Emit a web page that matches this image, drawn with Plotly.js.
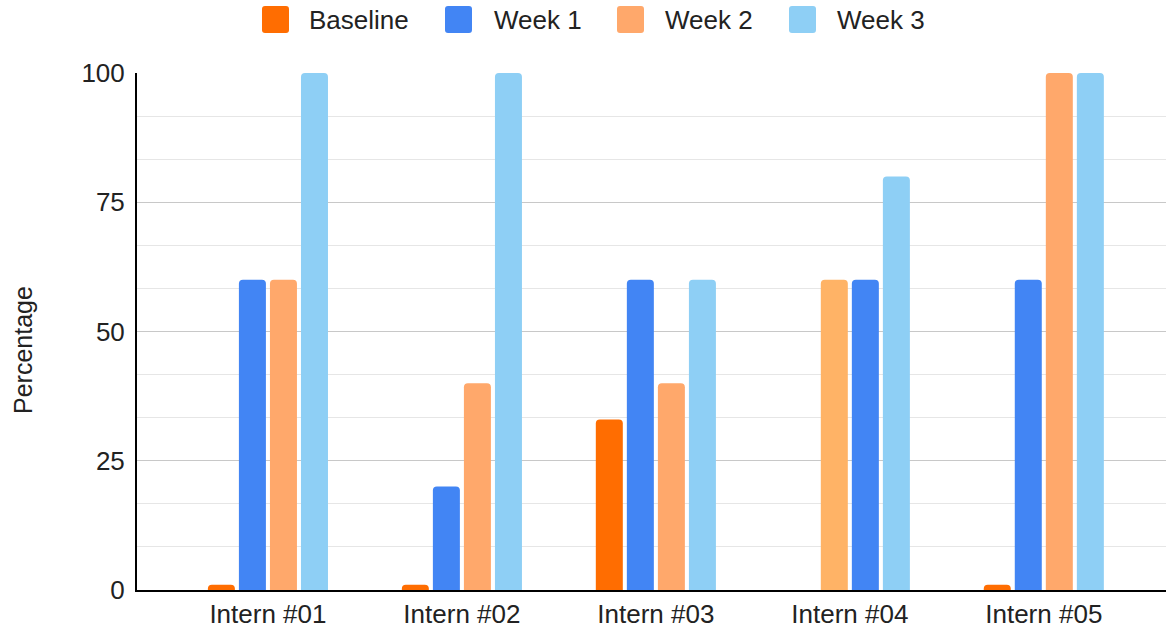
<!DOCTYPE html>
<html>
<head>
<meta charset="utf-8">
<script src="https://cdn.plot.ly/plotly-3.0.1.min.js"></script>
<style>html,body{margin:0;padding:0;background:#fff;}#chart{width:1166px;height:632px;}</style>
</head>
<body>
<div id="chart"></div>
<script>
const categories = ["Intern #01", "Intern #02", "Intern #03", "Intern #04", "Intern #05"];
const baseline = [1, 1, 33, 0, 1];
const week1 = [60, 20, 60, 60, 60];
const week2 = [60, 40, 40, 60, 100];
const week3 = [100, 100, 60, 80, 100];
const seriesNames = ["Baseline", "Week 1", "Week 2", "Week 3"];
const seriesColors = ["#FF6D01", "#4285F4", "#FFA86B", "#8ECFF5"];
// Individually recoloured points in the original chart (Intern #04)
const week1PointColors = ["#4285F4", "#4285F4", "#4285F4", "#FFB366", "#4285F4"];
const week2PointColors = ["#FFA86B", "#FFA86B", "#FFA86B", "#4285F4", "#FFA86B"];
const yTicks = [0, 25, 50, 75, 100];
const yTitle = "Percentage";

const values = [baseline, week1, week2, week3];
const pointColors = [null, week1PointColors, week2PointColors, null];
const traces = values.map((v, i) => ({
  type: 'bar',
  name: seriesNames[i],
  x: categories,
  y: v,
  marker: {
    color: pointColors[i] || seriesColors[i],
    cornerradius: 4,
    line: {width: 0}
  },
  hoverinfo: 'x+y+name',
  showlegend: false
}));

// ---- layout geometry (pixels) ----
const W = 1166, H = 632;
const M = {l: 137, r: 0, t: 73, b: 42};
const PW = W - M.l - M.r, PH = H - M.t - M.b;
const px2x = p => (p - M.l) / PW;
const py2y = p => (H - M.b - p) / PH;
const FS = 26;

// custom legend (rounded square swatch + text)
const legendSwatchX = [262, 445, 617, 789];
const legendTextX = [307, 492, 663, 835];
const swTop = 6, swBot = 33, swSize = 27, rad = 3;
function roundedRect(x0p, y0p, x1p, y1p, r) {
  const X = p => px2x(p).toFixed(6), Y = p => py2y(p).toFixed(6);
  return `M${X(x0p + r)},${Y(y0p)} L${X(x1p - r)},${Y(y0p)} Q${X(x1p)},${Y(y0p)} ${X(x1p)},${Y(y0p + r)} ` +
         `L${X(x1p)},${Y(y1p - r)} Q${X(x1p)},${Y(y1p)} ${X(x1p - r)},${Y(y1p)} ` +
         `L${X(x0p + r)},${Y(y1p)} Q${X(x0p)},${Y(y1p)} ${X(x0p)},${Y(y1p - r)} ` +
         `L${X(x0p)},${Y(y0p + r)} Q${X(x0p)},${Y(y0p)} ${X(x0p + r)},${Y(y0p)} Z`;
}
const shapes = seriesNames.map((n, i) => ({
  type: 'path', xref: 'paper', yref: 'paper',
  path: roundedRect(legendSwatchX[i], swTop, legendSwatchX[i] + swSize, swBot, rad),
  fillcolor: seriesColors[i], line: {width: 0}, layer: 'above'
}));
const annotations = seriesNames.map((n, i) => ({
  text: n, xref: 'paper', yref: 'paper', x: px2x(legendTextX[i]), y: py2y(20),
  xanchor: 'left', yanchor: 'middle', showarrow: false,
  font: {size: FS, color: '#222222'}
}));
annotations.push({
  text: yTitle, xref: 'paper', yref: 'paper', x: px2x(23), y: py2y(350),
  xanchor: 'center', yanchor: 'middle', textangle: -90, showarrow: false,
  font: {size: 25, color: '#222222'}
});

const layout = {
  width: W, height: H,
  margin: M,
  paper_bgcolor: '#ffffff', plot_bgcolor: '#ffffff',
  font: {family: 'Liberation Sans, Arial, sans-serif', size: FS, color: '#222222'},
  barmode: 'group',
  bargap: 0.36,
  bargroupgap: 0.13,
  showlegend: false,
  shapes: shapes,
  annotations: annotations,
  xaxis: {
    type: 'category',
    range: [-0.675, 4.63],
    showgrid: false, zeroline: false,
    showline: true, linecolor: '#000000', linewidth: 2,
    ticks: '', tickfont: {size: FS, color: '#222222'},
    automargin: false,
    fixedrange: true
  },
  yaxis: {
    range: [0, 100],
    tickvals: yTicks,
    ticktext: yTicks.map(String),
    showgrid: true, gridcolor: '#c8c8c8', gridwidth: 1,
    minor: {dtick: 25/3, tick0: 0, showgrid: true, gridcolor: '#e6e6e6', gridwidth: 1, ticks: ''},
    zeroline: false,
    showline: true, linecolor: '#000000', linewidth: 2,
    ticks: '', ticklabelstandoff: 5,
    tickfont: {size: FS, color: '#222222'},
    automargin: false,
    fixedrange: true
  }
};
Plotly.newPlot('chart', traces, layout, {displayModeBar: false, staticPlot: true});
</script>
</body>
</html>
